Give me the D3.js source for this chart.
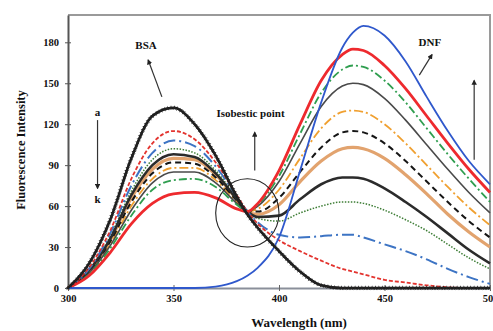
<!DOCTYPE html>
<html>
<head>
<meta charset="utf-8">
<script src="https://cdn.jsdelivr.net/npm/d3@7"></script>
<style>
  body { margin: 0; background: #fff; }
  svg { display: block; }
  text { font-family: "Liberation Serif", "Times New Roman", serif; font-weight: bold; fill: #111; }
</style>
</head>
<body>
<svg id="chart" width="493" height="331"></svg>
<script>
// Emission wavelengths (nm)
const wavelengths = [300, 310, 320, 330, 340, 350, 360, 370, 380, 385, 390, 400, 410, 420, 430, 435, 440, 450, 460, 470, 480, 490, 500];

// Fluorescence intensity, curve a (BSA alone) through k, then DNF alone
const seriesA   = [0, 18, 50, 95, 126, 132, 120, 97, 67, 54, 44, 27, 12, 2, 0, 0, 0, 0, 0, 0, 0, 0, 0];
const seriesB   = [0, 15, 42, 80, 106, 115, 109, 92, 68, 56, 47, 35, 27, 20, 14, 12, 10, 6, 4, 2, 0.5, 0, 0];
const seriesC   = [0, 14, 40, 75, 99, 108, 104, 89, 67, 56, 48, 39, 37, 38, 39, 39, 37, 32, 27, 21, 14, 8, 3];
const seriesD   = [0, 13, 38, 71, 94, 102, 99, 86, 66, 56, 51, 49, 55, 60, 63, 63, 62, 57, 50, 42, 32, 22, 14];
const seriesE   = [0, 13, 36, 68, 90, 98, 96, 84, 65, 56, 52, 53, 65, 76, 81, 81, 80, 73, 63, 52, 40, 28, 18];
const seriesF   = [0, 12, 35, 66, 87, 95, 94, 83, 65, 56, 54, 61, 78, 93, 102, 103, 102, 95, 83, 69, 54, 41, 30];
const seriesG   = [0, 12, 34, 63, 84, 92, 91, 81, 64, 56, 56, 66, 85, 103, 114, 115, 114, 106, 93, 78, 63, 49, 37];
const seriesH   = [0, 11, 32, 60, 80, 88, 88, 79, 63, 56, 58, 72, 95, 117, 129, 130, 129, 120, 106, 90, 74, 59, 46];
const seriesI   = [0, 11, 31, 57, 77, 85, 85, 77, 62, 56, 60, 78, 106, 133, 148, 150, 149, 139, 123, 105, 87, 70, 55];
const seriesJ   = [0, 10, 29, 53, 72, 79, 80, 74, 61, 56, 61, 82, 113, 143, 160, 163, 162, 152, 136, 117, 98, 80, 63];
const seriesK   = [0, 9, 26, 47, 62, 69, 70, 66, 58, 56, 62, 86, 120, 152, 171, 175, 174, 163, 146, 126, 106, 87, 70];
const seriesDNF = [0, 0, 0, 0, 0, 0, 0, 1, 5, 9, 15, 37, 86, 136, 176, 187, 192, 185, 166, 140, 115, 93, 76];

const xTicks = [300, 350, 400, 450, 500];
const yTicks = [0, 30, 60, 90, 120, 150, 180];

const xTitle = "Wavelength (nm)";
const yTitle = "Fluorescence Intensity";

// Isosbestic point (nm, intensity)
const isoPoint = [385, 55];

// Line styles, one per curve (drawing order: bottom to top)
const styles = [
  { data: seriesF,   color: "#e2a36e", width: 3.2, dash: null },
  { data: seriesH,   color: "#f0a030", width: 1.8, dash: "9,3,2,3" },
  { data: seriesG,   color: "#151515", width: 2,   dash: "6,4" },
  { data: seriesI,   color: "#4a4a4a", width: 1.6, dash: null },
  { data: seriesJ,   color: "#2f9e4f", width: 1.8, dash: "8,3,2,3" },
  { data: seriesD,   color: "#3d7d35", width: 1.5, dash: "1.5,1.5" },
  { data: seriesE,   color: "#2b2b2b", width: 2.6, dash: null },
  { data: seriesC,   color: "#3d74c4", width: 2,   dash: "12,4,2,4" },
  { data: seriesB,   color: "#e3342f", width: 1.8, dash: "4,2" },
  { data: seriesK,   color: "#ee2a2e", width: 2.8, dash: null },
  { data: seriesDNF, color: "#2f58cc", width: 1.8, dash: null },
  { data: seriesA,   color: "#1a1a1a", width: 2.4, dash: null, markers: true }
];

const svg = d3.select("#chart");
const x = d3.scaleLinear().domain([300, 500]).range([68, 490]);
const y = d3.scaleLinear().domain([0, 200]).range([288, 15]);

// Frame (top and right edges)
svg.append("path")
  .attr("d", `M${x(300)},${y(200)}H${x(500)}V${y(0)}`)
  .attr("fill", "none").attr("stroke", "#9a9a9a").attr("stroke-width", 2);

// Axes
const yAxis = d3.axisLeft(y).tickValues(yTicks).tickSizeInner(3).tickSizeOuter(0).tickPadding(6);
const gy = svg.append("g").attr("transform", `translate(${x(300)},0)`).call(yAxis);
gy.select(".domain").attr("stroke", "#555").attr("stroke-width", 2);
gy.selectAll(".tick line").attr("stroke", "#555").attr("x2", -3).attr("x1", 3);
gy.selectAll(".tick text").style("font-size", "10.5px").attr("fill", "#222");

const xAxis = d3.axisBottom(x).tickValues(xTicks).tickSizeInner(3).tickSizeOuter(0).tickPadding(4);
const gx = svg.append("g").attr("transform", `translate(0,${y(0)})`).call(xAxis);
gx.select(".domain").attr("stroke", "#8a8f9a").attr("stroke-width", 2);
gx.selectAll(".tick line").attr("stroke", "#666").attr("y1", -3).attr("y2", 3);
gx.selectAll(".tick text").style("font-size", "10.5px").attr("fill", "#222");

// Axis titles
svg.append("text").attr("x", 299).attr("y", 327).attr("text-anchor", "middle")
  .style("font-size", "13px").text(xTitle);
svg.append("text").attr("transform", "translate(25,150) rotate(-90)").attr("text-anchor", "middle")
  .style("font-size", "12.5px").text(yTitle);

// Curves
const line = d3.line()
  .x((d, i) => x(wavelengths[i]))
  .y(d => y(d))
  .curve(d3.curveMonotoneX);

const curves = svg.append("g");
styles.forEach(s => {
  const p = curves.append("path")
    .attr("d", line(s.data))
    .attr("fill", "none")
    .attr("stroke", s.color)
    .attr("stroke-width", s.width)
    .attr("stroke-linejoin", "round")
    .attr("stroke-dasharray", s.dash);
  if (s.markers) {
    // star markers sampled along the BSA curve
    const node = p.node();
    const len = node.getTotalLength();
    const sym = d3.symbol(d3.symbolStar).size(8);
    for (let l = 0; l <= len; l += 3.4) {
      const pt = node.getPointAtLength(l);
      curves.append("path").attr("d", sym())
        .attr("transform", `translate(${pt.x},${pt.y})`)
        .attr("fill", "#222");
    }
  }
});

// Isosbestic circle
svg.append("ellipse")
  .attr("cx", x(isoPoint[0])).attr("cy", y(isoPoint[1]))
  .attr("rx", x(isoPoint[0] + 15) - x(isoPoint[0]))
  .attr("ry", y(isoPoint[1]) - y(isoPoint[1] + 25))
  .attr("fill", "none").attr("stroke", "#222").attr("stroke-width", 1.1);

// Annotations: arrows in data units [x1, y1, x2, y2], head at (x2, y2)
const defs = svg.append("defs");
defs.append("marker").attr("id", "head").attr("viewBox", "0 0 10 10")
  .attr("refX", 8).attr("refY", 5).attr("markerWidth", 4.5).attr("markerHeight", 4.5)
  .attr("orient", "auto")
  .append("path").attr("d", "M0,0L10,5L0,10Z").attr("fill", "#222");

const arrows = [
  [344.5, 140, 338, 167],
  [314, 123, 314, 73],
  [388.5, 86, 388.5, 114],
  [466.5, 156, 472.5, 171],
  [492.5, 94, 492.5, 152]
];
arrows.forEach(a => {
  svg.append("line")
    .attr("x1", x(a[0])).attr("y1", y(a[1]))
    .attr("x2", x(a[2])).attr("y2", y(a[3]))
    .attr("stroke", "#333").attr("stroke-width", 1.2)
    .attr("marker-end", "url(#head)");
});

const labels = [
  { text: "BSA", at: [337, 175] },
  { text: "a", at: [314, 126] },
  { text: "k", at: [314, 62] },
  { text: "Isobestic point", at: [386.5, 125] },
  { text: "DNF", at: [471.5, 177] }
];
labels.forEach(l => {
  svg.append("text")
    .attr("x", x(l.at[0])).attr("y", y(l.at[1]))
    .attr("text-anchor", "middle")
    .style("font-size", "11px")
    .text(l.text);
});
</script>
</body>
</html>
